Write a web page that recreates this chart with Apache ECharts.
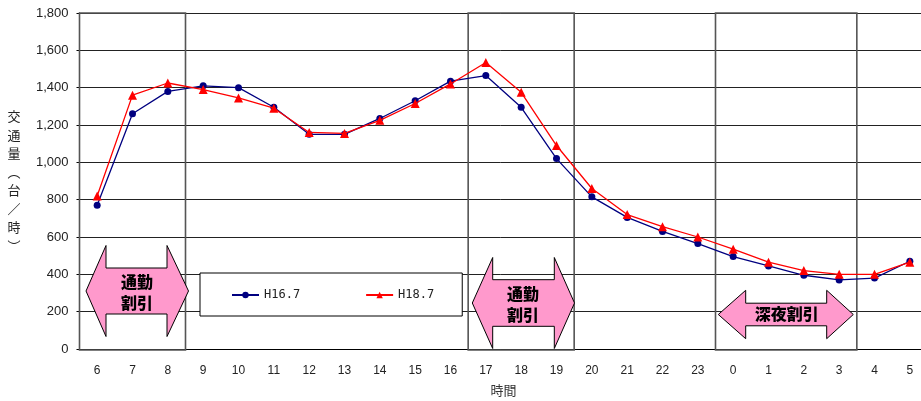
<!DOCTYPE html>
<html>
<head>
<meta charset="utf-8">
<script src="https://cdn.jsdelivr.net/npm/echarts@6/dist/echarts.min.js"></script>
<style>
  html, body { margin: 0; padding: 0; background: #fff; }
  #chart { width: 921px; height: 401px; }
</style>
</head>
<body>
<div id="chart"></div>
<script>
// Hour of day, starting at 6 a.m.
const hours = ['6','7','8','9','10','11','12','13','14','15','16','17','18','19','20','21','22','23','0','1','2','3','4','5'];

// Traffic volume (vehicles per hour)
const volumeH167 = [770, 1260, 1380, 1410, 1400, 1295, 1150, 1150, 1235, 1330, 1435, 1465, 1295, 1020, 815, 705, 630, 565, 495, 445, 395, 370, 380, 470];
const volumeH187 = [820, 1360, 1425, 1390, 1345, 1290, 1160, 1155, 1225, 1315, 1420, 1535, 1375, 1090, 860, 720, 655, 600, 535, 465, 420, 400, 400, 465];

const yTicks = { min: 0, max: 1800, interval: 200 };

// Discount periods: first and last hour index covered by each frame
const discountSpans = [[0, 2], [11, 13], [18, 21]];

const chart = echarts.init(document.getElementById('chart'));

const latin = 'Liberation Sans, Arial, sans-serif';
const cjk = '"Noto Sans CJK JP", sans-serif';

function arrow(tipL, tipR, baseL, baseR, cy, headHalf, shaftHalf) {
  return {
    type: 'polygon',
    z: 50,
    shape: {
      points: [
        [tipL, cy], [baseL, cy - headHalf], [baseL, cy - shaftHalf], [baseR, cy - shaftHalf],
        [baseR, cy - headHalf], [tipR, cy], [baseR, cy + headHalf], [baseR, cy + shaftHalf],
        [baseL, cy + shaftHalf], [baseL, cy + headHalf]
      ]
    },
    style: { fill: '#ff99cc', stroke: '#000', lineWidth: 1 }
  };
}

function label(text, x, y) {
  return {
    type: 'text',
    z: 51,
    x: x, y: y,
    style: {
      text: text,
      font: '900 16px ' + cjk,
      fill: '#000',
      align: 'center',
      verticalAlign: 'middle',
      lineHeight: 21
    }
  };
}

chart.setOption({
  animation: false,
  backgroundColor: '#fff',
  grid: { left: 79.5, width: 848, top: 13, bottom: 52, containLabel: false, outerBoundsMode: 'none' },
  legend: {
    left: 200,
    top: 273,
    orient: 'horizontal',
    backgroundColor: '#fff',
    borderColor: '#000',
    borderWidth: 1,
    borderRadius: 0,
    padding: [16, 28, 15, 31],
    itemWidth: 27,
    itemHeight: 8,
    itemGap: 65,
    textStyle: { fontFamily: 'DejaVu Sans Mono, monospace', fontSize: 12, color: '#222' },
    data: ['H16.7', 'H18.7']
  },
  xAxis: {
    type: 'category',
    data: hours,
    boundaryGap: true,
    name: '時間',
    nameLocation: 'middle',
    nameGap: 35,
    nameTextStyle: { fontFamily: cjk, fontSize: 13, color: '#333' },
    axisLine: { lineStyle: { color: '#000', width: 1 } },
    axisTick: { inside: true, length: 5, lineStyle: { color: '#000' } },
    axisLabel: { fontFamily: latin, fontSize: 12, color: '#222', margin: 16 },
    splitLine: { show: false }
  },
  yAxis: {
    type: 'value',
    min: yTicks.min,
    max: yTicks.max,
    interval: yTicks.interval,
    name: '交\n通\n量\n︵\n台\n／\n時\n︶',
    nameLocation: 'middle',
    nameRotate: 0,
    nameGap: 59,
    nameTextStyle: { fontFamily: cjk, fontSize: 13, color: '#222', lineHeight: 18.5 },
    axisLine: { show: true, lineStyle: { color: '#000', width: 1 } },
    axisTick: { show: true, length: 3, lineStyle: { color: '#000' } },
    axisLabel: {
      fontFamily: latin, fontSize: 13, color: '#222', margin: 11,
      formatter: v => v.toLocaleString('en-US')
    },
    splitLine: { show: true, lineStyle: { color: '#222', width: 1 } }
  },
  series: [
    {
      type: 'custom',
      name: 'frames',
      silent: true,
      clip: false,
      z: 1,
      encode: { x: [0, 1] },
      data: discountSpans,
      renderItem: function (params, api) {
        const half = api.size([1, 0])[0] / 2;
        const x0 = api.coord([api.value(0), 0])[0] - half;
        const x1 = api.coord([api.value(1), 0])[0] + half;
        const yTop = api.coord([0, yTicks.max])[1];
        const yBot = api.coord([0, yTicks.min])[1] + 1;
        return {
          type: 'rect',
          shape: { x: x0, y: yTop, width: x1 - x0, height: yBot - yTop },
          style: { fill: null, stroke: '#555', lineWidth: 1.6 }
        };
      }
    },
    {
      type: 'line',
      name: 'H16.7',
      data: volumeH167,
      z: 3,
      symbol: 'circle',
      symbolSize: 7,
      lineStyle: { color: '#000080', width: 1.3 },
      itemStyle: { color: '#000080' }
    },
    {
      type: 'line',
      name: 'H18.7',
      data: volumeH187,
      z: 4,
      symbol: 'triangle',
      symbolSize: 9,
      lineStyle: { color: '#ff0000', width: 1.3 },
      itemStyle: { color: '#ff0000' }
    }
  ],
  graphic: [
    arrow(86, 188.5, 106, 167, 291, 45.5, 23),
    label('通勤\n割引', 137, 292),
    arrow(472.3, 574.5, 492.7, 554.3, 303, 45.5, 23.3),
    label('通勤\n割引', 523, 304),
    arrow(718.3, 853.3, 745.7, 826.7, 314.5, 24.2, 11.3),
    label('深夜割引', 786.7, 314)
  ]
});
</script>
</body>
</html>
